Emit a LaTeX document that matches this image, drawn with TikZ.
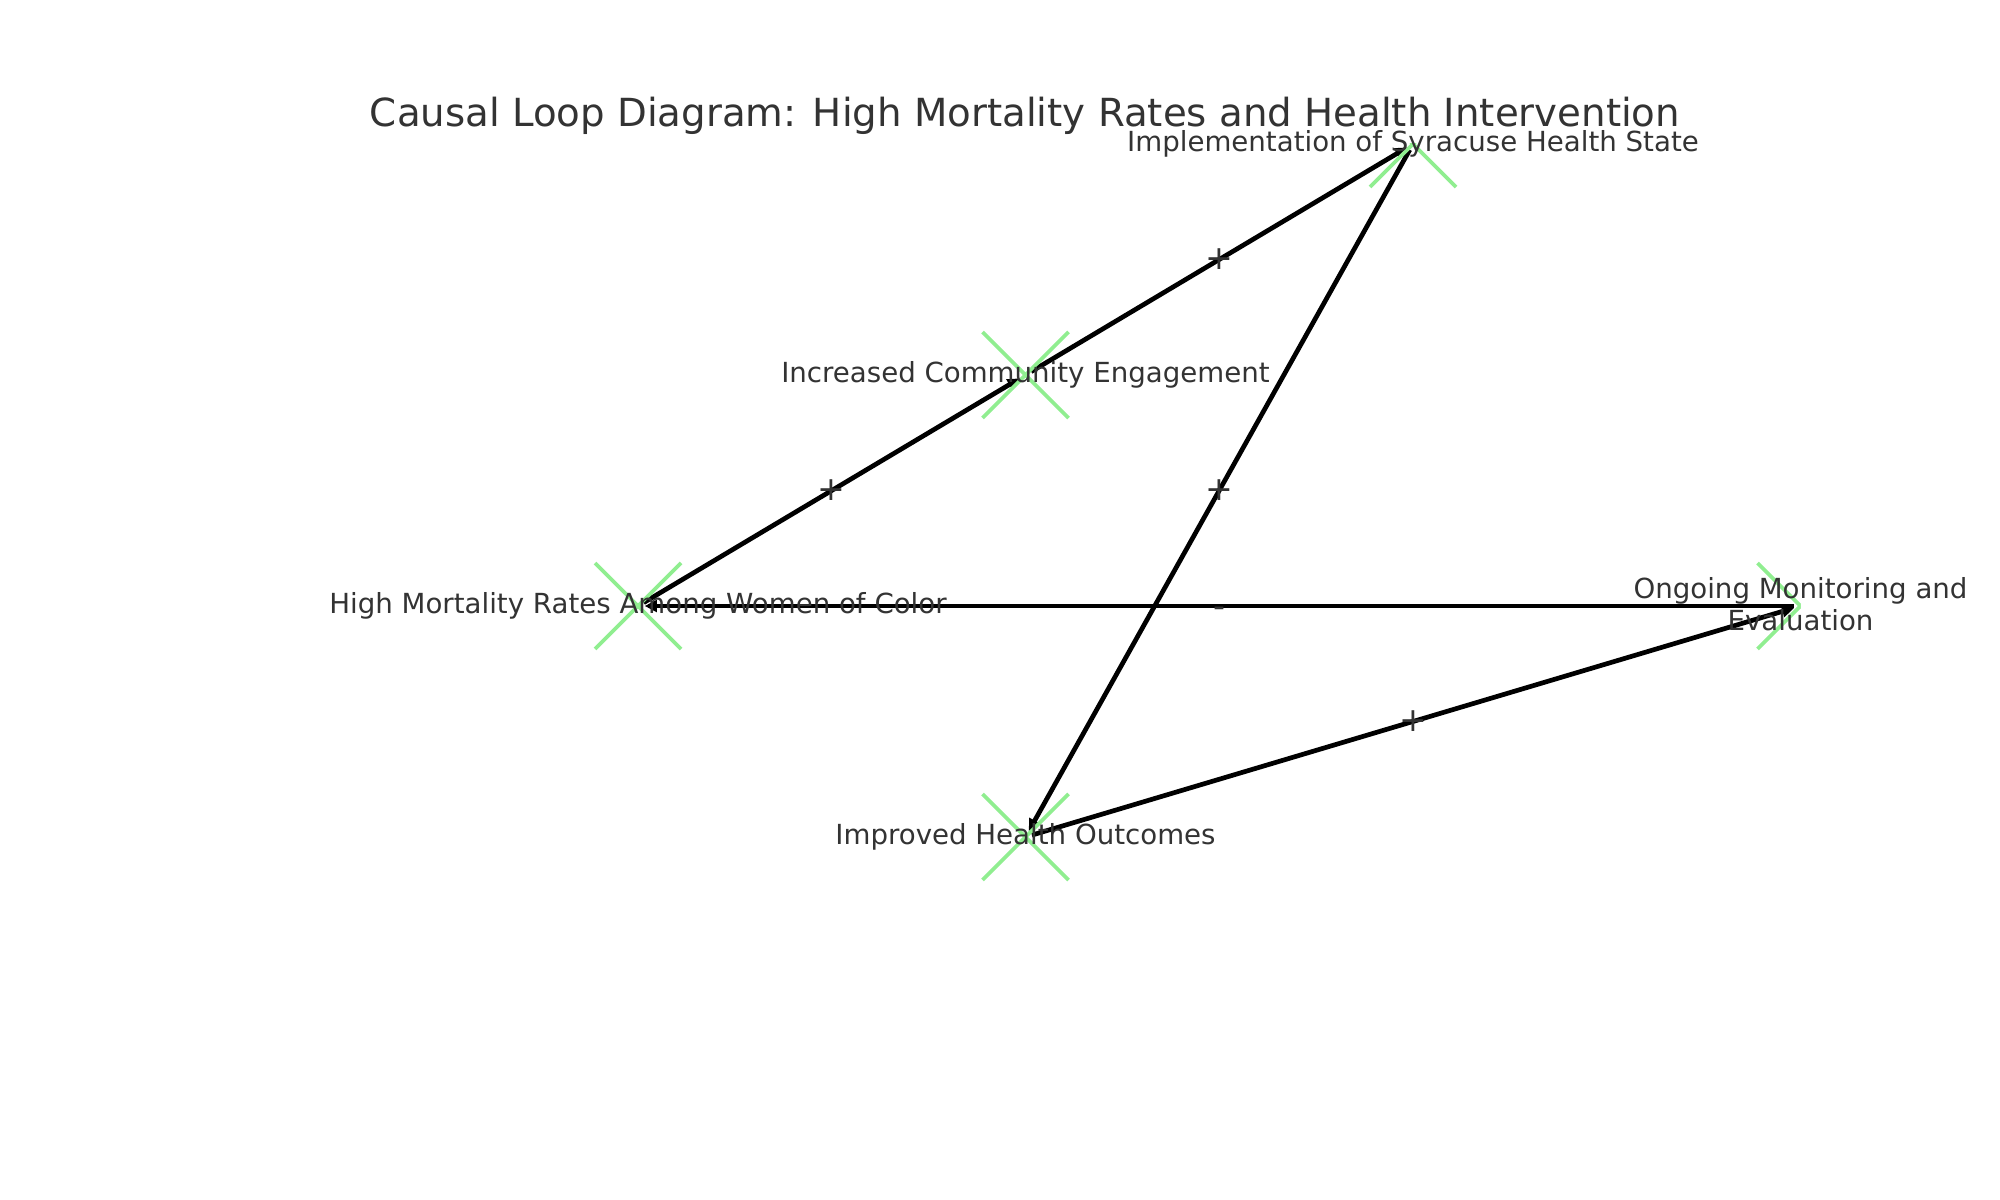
\documentclass[tikz,border=0pt]{standalone}
\usepackage{fontspec}
\setmainfont{DejaVu Sans}
\usetikzlibrary{arrows.meta,calc}
\definecolor{txtgray}{HTML}{333333}
\definecolor{mkgreen}{HTML}{90EE90}
\tikzset{
  edgearrow/.style={line width=1.7pt, black, -{Triangle[length=4.4pt,width=4.2pt]}, shorten >=2.4pt, shorten <=2.4pt},
  xmarker/.style={line width=1.3pt, mkgreen},
  nodelabel/.style={font=\fontsize{10pt}{11.6pt}\selectfont, text=txtgray, inner sep=0pt, text height=0.76em, text depth=0.24em, align=center},
  edgelabel/.style={font=\fontsize{12pt}{14pt}\selectfont, text=txtgray, inner sep=0pt},
  titlelabel/.style={font=\fontsize{14pt}{16pt}\selectfont, text=txtgray, inner sep=0pt, anchor=base}
}
\begin{document}
\begin{tikzpicture}[x=0.005in,y=-0.005in]
\useasboundingbox (0,0) rectangle (2000,1200);
\fill[white] (0,0) rectangle (2000,1200);
% node centres
\coordinate (hm) at (638,606);
\coordinate (ic) at (1025.5,375);
\coordinate (impl) at (1413,144);
\coordinate (ongo) at (1800.5,606);
\coordinate (imp) at (1025.5,837);
\begin{scope}
\clip (250,144) rectangle (1800.5,1068);
% edges
\draw[edgearrow] (hm) -- (ic);
\draw[edgearrow] (ic) -- (impl);
\draw[edgearrow] (impl) -- (imp);
\draw[edgearrow] (imp) -- (ongo);
\draw[edgearrow] (ongo) -- (hm);
% markers
\foreach \n in {hm,ic,impl,ongo,imp}{
  \draw[xmarker] ($(\n)+(-43,-43)$) -- ($(\n)+(43,43)$);
  \draw[xmarker] ($(\n)+(-43,43)$) -- ($(\n)+(43,-43)$);
}
\end{scope}
% edge labels
\node[edgelabel] (l1) at ($(hm)!0.5!(ic)$) {+};
\node[edgelabel] (l2) at ($(ic)!0.5!(impl)$) {+};
\node[edgelabel] (l3) at ($(impl)!0.5!(imp)$) {+};
\node[edgelabel] (l4) at ($(imp)!0.5!(ongo)$) {+};
\node[edgelabel] (l5) at ($(ongo)!0.5!(hm)+(0,6)$) {-};
% node labels
\node[nodelabel] (hmlabel) at (hm) {High Mortality Rates Among Women of Color};
\node[nodelabel] (iclabel) at (ic) {Increased Community Engagement};
\node[nodelabel] (impllabel) at (impl) {Implementation of Syracuse Health State};
\node[nodelabel, text height=, text depth=] (ongolabel) at ($(ongo)+(0,-2)$) {Ongoing Monitoring and\\Evaluation};
\node[nodelabel] (implabel) at (imp) {Improved Health Outcomes};
% title
\node[titlelabel] (title) at (1025,127) {Causal Loop Diagram: High Mortality Rates and Health Intervention};
\end{tikzpicture}
\end{document}
